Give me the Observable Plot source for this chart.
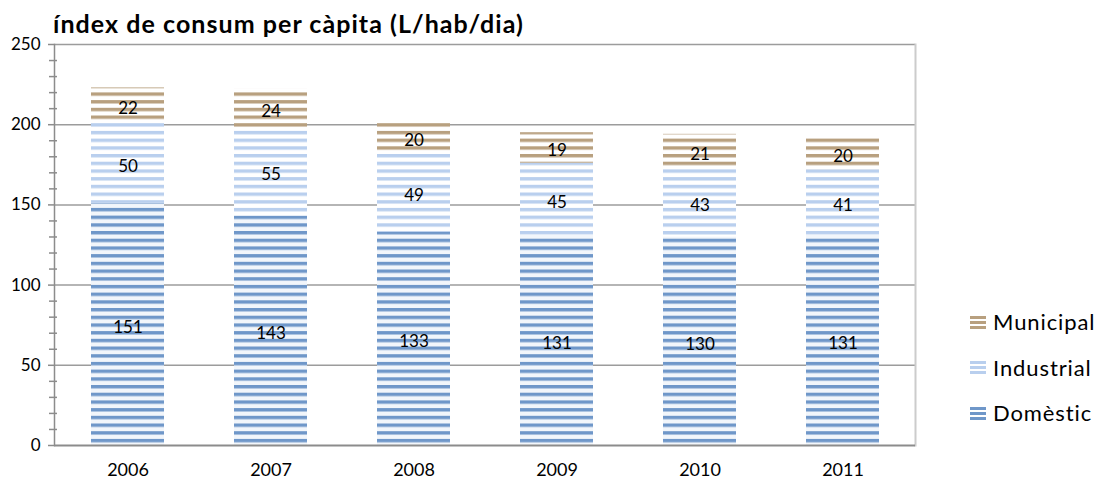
<!DOCTYPE html>
<html><head><meta charset="utf-8">
<script src="https://cdn.jsdelivr.net/npm/d3@7"></script>
<script src="https://cdn.jsdelivr.net/npm/@observablehq/plot@0.6"></script>
<style>
body{margin:0;background:#fff;font-family:Lato,"Open Sans",sans-serif;}
#wrap{position:relative;width:1098px;height:482px;overflow:hidden;}
#title{position:absolute;left:53px;top:8px;font-weight:bold;font-size:25px;color:#000;white-space:nowrap;letter-spacing:1.05px;}
#legend{position:absolute;left:970px;top:299px;font-size:22px;color:#000;letter-spacing:0.9px;}
.li{display:flex;align-items:center;height:45.5px;}
.sw{width:16px;height:14px;margin-right:7px;}
</style>
</head><body>
<div id="wrap">
<div id="chart"></div>
<div id="title">índex de consum per càpita (L/hab/dia)</div>
<div id="legend"></div>
</div>
<script>
const years = ["2006","2007","2008","2009","2010","2011"];
const domestic = [151,143,133,131,130,131];
const industrial = [50,55,49,45,43,41];
const municipal = [22,24,20,19,21,20];
const series = ["Domèstic","Industrial","Municipal"];
const yTicks = [0,50,100,150,200,250];

const seriesValues = [domestic, industrial, municipal];
const rows = [];
years.forEach((yr,i)=>{
  series.forEach((s,j)=>rows.push({year:yr, series:s, value:seriesValues[j][i]}));
});

const patterns = [
  {id:"pDom", stripe:"#6f97c9", bg:"#f2f6fb"},
  {id:"pInd", stripe:"#b9cfee", bg:"#ffffff"},
  {id:"pMun", stripe:"#b8a07f", bg:"#ffffff"}
];
const minor = d3.range(0,251,10).filter(v=>v%50!==0);

const chart = Plot.plot({
  width:1098, height:482,
  marginLeft:54, marginRight:183, marginTop:44, marginBottom:37,
  x:{domain:years, paddingInner:0.49, paddingOuter:0.245, label:null},
  y:{domain:[0,250], label:null},
  color:{domain:series, range:patterns.map(p=>`url(#${p.id})`)},
  style:{fontFamily:"Lato, 'Open Sans', sans-serif", fontSize:"17px", color:"#000", background:"#fff"},
  marks:[
    Plot.ruleY(yTicks.slice(1), {stroke:"#9c9c9c", strokeWidth:1.5}),
    Plot.frame({anchor:"right", stroke:"#cccccc", strokeWidth:2}),
    Plot.barY(rows, {x:"year", y:"value", fill:"series"}),
    Plot.text(rows, Plot.stackY({x:"year", y:"value", z:"series", text:d=>String(d.value), fontSize:17, fill:"#000", dy:3})),
    Plot.frame({anchor:"left", stroke:"#8c8c8c", strokeWidth:1.5}),
    Plot.ruleY([0], {stroke:"#8c8c8c", strokeWidth:2}),
    Plot.axisY({ticks:yTicks, tickSize:6, tickPadding:8, fontSize:17, stroke:"#8c8c8c", strokeWidth:1.5}),
    Plot.axisY({ticks:minor, tickSize:8, dx:3, tickFormat:()=>"", stroke:"#8c8c8c", strokeWidth:1.5}),
    Plot.axisX({tickSize:0, tickPadding:18, fontSize:18})
  ]
});

// pattern defs
const svg = d3.select(chart);
const defs = svg.insert("defs", ":first-child");
patterns.forEach(p=>{
  const pat = defs.append("pattern").attr("id",p.id).attr("patternUnits","userSpaceOnUse")
    .attr("width",8).attr("height",7.7);
  pat.append("rect").attr("width",8).attr("height",7.7).attr("fill",p.bg);
  pat.append("rect").attr("y",0).attr("width",8).attr("height",3.4).attr("fill",p.stripe);
});
document.getElementById("chart").appendChild(chart);

// legend (top to bottom: Municipal, Industrial, Domèstic)
const leg = d3.select("#legend");
[2,1,0].forEach(j=>{
  const item = leg.append("div").attr("class","li");
  const sv = item.append("svg").attr("class","sw").attr("width",16).attr("height",14);
  [1,6,11].forEach(y=>sv.append("rect").attr("x",0).attr("y",y).attr("width",16).attr("height",3).attr("fill",patterns[j].stripe));
  item.append("span").text(series[j]);
});
</script>
</body></html>
